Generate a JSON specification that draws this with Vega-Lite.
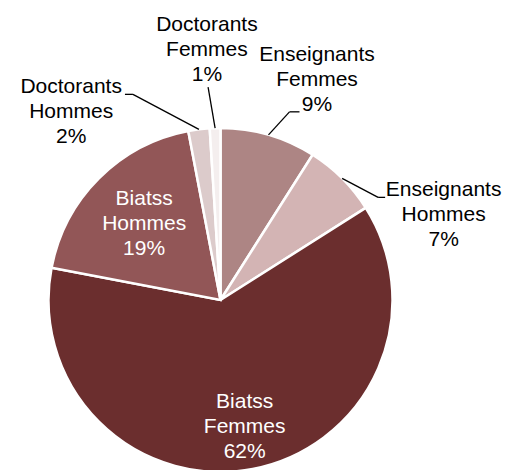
{
  "$schema": "https://vega.github.io/schema/vega-lite/v6.json",
  "width": 441,
  "height": 340,
  "autosize": {"type": "none"},
  "padding": {"left": 0, "top": 130, "right": 66, "bottom": 0},
  "background": "white",
  "view": {"stroke": null},
  "data": {
    "values": [
      {"ordre": 1, "categorie": "Enseignants Femmes", "groupe": "Enseignants", "sexe": "Femmes", "pct": 9},
      {"ordre": 2, "categorie": "Enseignants Hommes", "groupe": "Enseignants", "sexe": "Hommes", "pct": 7},
      {"ordre": 3, "categorie": "Biatss Femmes", "groupe": "Biatss", "sexe": "Femmes", "pct": 62},
      {"ordre": 4, "categorie": "Biatss Hommes", "groupe": "Biatss", "sexe": "Hommes", "pct": 19},
      {"ordre": 5, "categorie": "Doctorants Hommes", "groupe": "Doctorants", "sexe": "Hommes", "pct": 2},
      {"ordre": 6, "categorie": "Doctorants Femmes", "groupe": "Doctorants", "sexe": "Femmes", "pct": 1}
    ]
  },
  "layer": [
    {
      "mark": {"type": "arc", "radius": 172, "stroke": "white", "strokeWidth": 2.5},
      "encoding": {
        "theta": {"field": "pct", "type": "quantitative", "stack": true},
        "order": {"field": "ordre", "type": "quantitative"},
        "color": {
          "field": "categorie",
          "type": "nominal",
          "legend": null,
          "scale": {
            "domain": ["Enseignants Femmes", "Enseignants Hommes", "Biatss Femmes", "Biatss Hommes", "Doctorants Hommes", "Doctorants Femmes"],
            "range": ["#ad8584", "#d3b4b4", "#6b2e2e", "#925657", "#dccbcb", "#f4eeee"]
          }
        }
      }
    },
    {
      "transform": [
        {"stack": "pct", "groupby": [], "sort": [{"field": "ordre"}], "as": ["s0", "s1"]},
        {"filter": "datum.groupe != 'Biatss'"}
      ],
      "mark": {"type": "rule", "color": "black", "strokeWidth": 1.3},
      "encoding": {
        "x": {"value": {"expr": "width/2 + 172*sin(PI*(datum.s0+datum.s1)/100)"}},
        "y": {"value": {"expr": "height/2 - 172*cos(PI*(datum.s0+datum.s1)/100)"}},
        "x2": {"value": {"expr": "width/2 + 172*sin(PI*(datum.s0+datum.s1)/100) + (datum.categorie == 'Doctorants Femmes' ? -7 : datum.categorie == 'Doctorants Hommes' ? -66 : datum.categorie == 'Enseignants Femmes' ? 21 : 36)"}},
        "y2": {"value": {"expr": "height/2 - 172*cos(PI*(datum.s0+datum.s1)/100) + (datum.categorie == 'Doctorants Femmes' ? -41 : datum.categorie == 'Doctorants Hommes' ? -35 : datum.categorie == 'Enseignants Femmes' ? -23 : 19)"}}
      }
    },
    {
      "transform": [
        {"stack": "pct", "groupby": [], "sort": [{"field": "ordre"}], "as": ["s0", "s1"]},
        {"filter": "datum.groupe != 'Biatss' && datum.categorie != 'Doctorants Femmes'"}
      ],
      "mark": {"type": "rule", "color": "black", "strokeWidth": 1.3},
      "encoding": {
        "x": {"value": {"expr": "width/2 + 172*sin(PI*(datum.s0+datum.s1)/100) + (datum.categorie == 'Doctorants Hommes' ? -66 : datum.categorie == 'Enseignants Femmes' ? 21 : 36)"}},
        "y": {"value": {"expr": "height/2 - 172*cos(PI*(datum.s0+datum.s1)/100) + (datum.categorie == 'Doctorants Hommes' ? -35 : datum.categorie == 'Enseignants Femmes' ? -23 : 19)"}},
        "x2": {"value": {"expr": "width/2 + 172*sin(PI*(datum.s0+datum.s1)/100) + (datum.categorie == 'Doctorants Hommes' ? -74 : datum.categorie == 'Enseignants Femmes' ? 31 : 43)"}},
        "y2": {"value": {"expr": "height/2 - 172*cos(PI*(datum.s0+datum.s1)/100) + (datum.categorie == 'Doctorants Hommes' ? -35 : datum.categorie == 'Enseignants Femmes' ? -23 : 19)"}}
      }
    },
    {
      "mark": {
        "type": "text",
        "font": "Liberation Sans",
        "fontSize": 21,
        "lineHeight": 25,
        "align": "center",
        "baseline": "middle",
        "text": {"expr": "[datum.groupe, datum.sexe, datum.pct + '%']"},
        "radius": {"expr": "datum.categorie == 'Biatss Femmes' ? 129 : datum.categorie == 'Biatss Hommes' ? 108 : 242"},
        "dx": {"expr": "datum.categorie == 'Enseignants Femmes' ? 29 : datum.categorie == 'Enseignants Hommes' ? 52 : datum.categorie == 'Doctorants Hommes' ? -119 : datum.categorie == 'Doctorants Femmes' ? -6 : 0"},
        "dy": {"expr": "datum.categorie == 'Enseignants Femmes' ? -13 : datum.categorie == 'Enseignants Hommes' ? 61 : datum.categorie == 'Doctorants Hommes' ? 27 : datum.categorie == 'Doctorants Femmes' ? -33 : -25"}
      },
      "encoding": {
        "theta": {"field": "pct", "type": "quantitative", "stack": true},
        "order": {"field": "ordre", "type": "quantitative"},
        "color": {
          "condition": {"test": "datum.groupe == 'Biatss'", "value": "white"},
          "value": "black"
        }
      }
    }
  ]
}
